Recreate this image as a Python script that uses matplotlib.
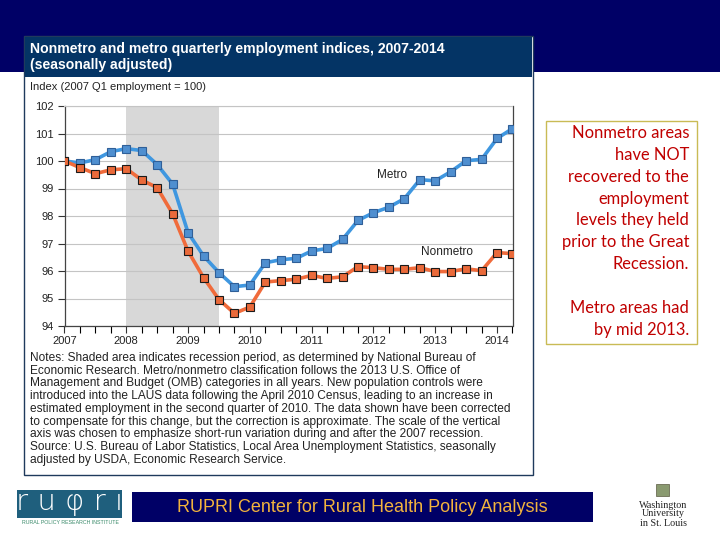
import matplotlib
matplotlib.use("Agg")
import matplotlib.pyplot as plt
from matplotlib.patches import Rectangle
import numpy as np

# ---- data ----
quarters = [2007 + 0.25 * i for i in range(30)]  # 2007Q1 .. 2014Q2
metro = [100.00, 99.93, 100.05, 100.34, 100.45, 100.38, 99.87, 99.16, 97.39, 96.55,
         95.94, 95.43, 95.49, 96.30, 96.41, 96.46, 96.73, 96.82, 97.15, 97.84,
         98.12, 98.32, 98.63, 99.32, 99.28, 99.61, 100.01, 100.06, 100.82, 101.18]
nonmetro = [100.00, 99.76, 99.54, 99.68, 99.72, 99.31, 99.03, 98.08, 96.72, 95.76,
            94.96, 94.46, 94.69, 95.60, 95.65, 95.70, 95.84, 95.73, 95.79, 96.16,
            96.12, 96.06, 96.06, 96.12, 95.98, 95.98, 96.08, 96.01, 96.67, 96.63]
year_ticks = [2007, 2008, 2009, 2010, 2011, 2012, 2013, 2014]
y_ticks = [94, 95, 96, 97, 98, 99, 100, 101, 102]
recession = (2008.0, 2009.5)

title = "Nonmetro and metro quarterly employment indices, 2007-2014\n(seasonally adjusted)"
ylabel_text = "Index (2007 Q1 employment = 100)"
notes = ("Notes: Shaded area indicates recession period, as determined by National Bureau of\n"
         "Economic Research. Metro/nonmetro classification follows the 2013 U.S. Office of\n"
         "Management and Budget (OMB) categories in all years. New population controls were\n"
         "introduced into the LAUS data following the April 2010 Census, leading to an increase in\n"
         "estimated employment in the second quarter of 2010. The data shown have been corrected\n"
         "to compensate for this change, but the correction is approximate. The scale of the vertical\n"
         "axis was chosen to emphasize short-run variation during and after the 2007 recession.\n"
         "Source: U.S. Bureau of Labor Statistics, Local Area Unemployment Statistics, seasonally\n"
         "adjusted by USDA, Economic Research Service.")
side_text = ("Nonmetro areas\nhave NOT\nrecovered to the\nemployment\nlevels they held\n"
             "prior to the Great\nRecession.\n\nMetro areas had\nby mid 2013.")

plt.rcParams['font.family'] = ['Liberation Sans', 'DejaVu Sans']

fig = plt.figure(figsize=(7.2, 5.4), dpi=100)

# background canvas in pixel coordinates
bg = fig.add_axes([0, 0, 1, 1], zorder=0)
bg.set_xlim(0, 720)
bg.set_ylim(540, 0)
bg.axis('off')

navy = "#000066"
bg.add_patch(Rectangle((0, 0), 720, 72, color=navy, lw=0))
# chart panel
bg.add_patch(Rectangle((24, 36), 508.5, 439, facecolor="white", edgecolor="#1f3a5c", lw=1.0))
bg.add_patch(Rectangle((24.5, 36.5), 507.5, 40.5, facecolor="#043465", edgecolor="none", lw=0))
bg.text(30, 57, title, color="white", fontsize=10.1, fontweight='bold', va='center', ha='left',
        linespacing=1.12)
bg.text(30, 87, ylabel_text, color="#222222", fontsize=8, va='center', ha='left')
bg.text(30, 352, notes, color="#222222", fontsize=8.6, va='top', ha='left', linespacing=1.08)

# right annotation box
bg.add_patch(Rectangle((546, 121), 151, 223, facecolor="white", edgecolor="#c9bb55", lw=1.0))
bg.text(689, 125, side_text, color="#c00000", fontsize=11.9, va='top', ha='right',
        family=['Lato', 'DejaVu Sans'], linespacing=1.45)

# bottom logos
bg.add_patch(Rectangle((17, 490), 105, 28, color="#1f5f7d", lw=0))
bg.text(69.5, 502, "r u \u03c6 r i", color="white", fontsize=21, ha='center', va='center',
        family=['DejaVu Sans'], fontweight='light')
bg.text(70, 523, "RURAL POLICY RESEARCH INSTITUTE", color="#3a8a6a", fontsize=3.8, ha='center', va='center')
bg.add_patch(Rectangle((132, 492), 461, 30, color=navy, lw=0))
bg.text(362, 507, "RUPRI Center for Rural Health Policy Analysis", color="#f2b33d", fontsize=13,
        ha='center', va='center')
bg.add_patch(Rectangle((656, 484), 13, 12, facecolor="#8a9a70", edgecolor="#5a5a40", lw=0.5))
bg.text(663, 514, "Washington\nUniversity\nin St. Louis", color="#222222", fontsize=7.3,
        ha='center', va='center', family=['Liberation Serif'], linespacing=1.0)

# ---- chart ----
ax = fig.add_axes([64.5 / 720, 1 - 326 / 540, (512.5 - 64.5) / 720, (326 - 106) / 540], zorder=2)
ax.set_facecolor("white")
ax.axvspan(recession[0], recession[1], color="#d8d8d8", lw=0, zorder=0)
for yv in y_ticks:
    ax.axhline(yv, color="#c4c4c4", lw=0.8, zorder=1)

ax.plot(quarters, metro, color="#3f97e0", lw=2.6, zorder=3,
        marker='s', markersize=5.2, markerfacecolor="#4f8fd0", markeredgecolor="#2f5f98", markeredgewidth=0.8)
ax.plot(quarters, nonmetro, color="#f06b3b", lw=2.6, zorder=3,
        marker='s', markersize=5.2, markerfacecolor="#ea6a3a", markeredgecolor="#1a1a1a", markeredgewidth=0.8)

ax.text(2012.30, 99.49, "Metro", fontsize=8.5, ha='center', va='center', color="#222222", zorder=4)
ax.text(2013.19, 96.69, "Nonmetro", fontsize=8.5, ha='center', va='center', color="#222222", zorder=4)

ax.set_xlim(quarters[0], quarters[-1])
ax.set_ylim(94, 102)
ax.set_xticks(year_ticks)
ax.set_xticklabels([str(y) for y in year_ticks])
ax.set_xticks(quarters, minor=True)
ax.set_yticks(y_ticks)
ax.tick_params(axis='both', labelsize=8, colors="#333333", labelcolor="#222222")
ax.tick_params(axis='x', which='major', length=5, width=0.8, direction='out', pad=2)
ax.tick_params(axis='x', which='minor', length=5, width=0.8, direction='out')
ax.tick_params(axis='y', length=5, width=0.8, direction='out', pad=3)
for s in ['left', 'bottom', 'right']:
    ax.spines[s].set_color("#444444")
    ax.spines[s].set_linewidth(0.9)
ax.spines['top'].set_color("#c4c4c4")
ax.spines['top'].set_linewidth(0.8)

fig.savefig("out.png", dpi=100)
